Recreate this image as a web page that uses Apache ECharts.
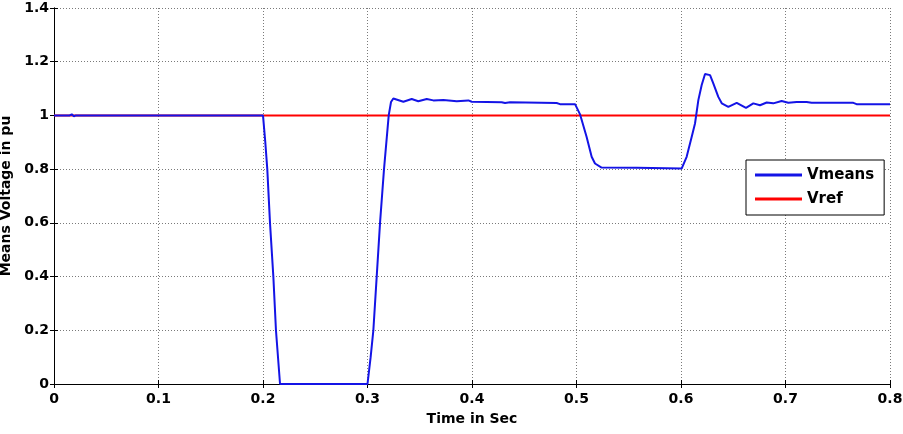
<!DOCTYPE html>
<html>
<head>
<meta charset="utf-8">
<script src="https://cdn.jsdelivr.net/npm/echarts@6/dist/echarts.min.js"></script>
<style>
  html, body { margin: 0; padding: 0; background: #fff; }
  #chart { width: 903px; height: 434px; }
</style>
</head>
<body>
<div id="chart"></div>
<script>
// time axis (s) and mean voltage (pu)
var vmeansTime = [0, 0.015, 0.017, 0.019, 0.021, 0.2, 0.2022, 0.2041, 0.2067, 0.2099, 0.2124, 0.2163,
  0.300, 0.303, 0.3056, 0.3088, 0.312, 0.3158, 0.3203, 0.3225, 0.3247, 0.3343, 0.3423, 0.3486, 0.3567,
  0.363, 0.3726, 0.3854, 0.3965, 0.3997, 0.4284, 0.4316, 0.4364, 0.481, 0.4842, 0.4986, 0.5033, 0.5097,
  0.5145, 0.5177, 0.524, 0.5576, 0.558, 0.6006, 0.6054, 0.6102, 0.6134, 0.6166, 0.6198, 0.623, 0.6278,
  0.6309, 0.6357, 0.639, 0.6453, 0.6533, 0.6622, 0.6692, 0.6756, 0.682, 0.6883, 0.6963, 0.7027, 0.7107,
  0.7202, 0.725, 0.7649, 0.768, 0.8];
var vmeansVal = [1.0, 1.0, 1.004, 0.997, 1.0, 1.0, 0.9, 0.8, 0.6, 0.4, 0.2, 0.0,
  0.0, 0.1, 0.2, 0.4, 0.6, 0.8, 1.0, 1.05, 1.063, 1.051, 1.061, 1.053, 1.061,
  1.056, 1.057, 1.053, 1.056, 1.051, 1.049, 1.046, 1.049, 1.046, 1.042, 1.042, 1.005, 0.92,
  0.846, 0.821, 0.806, 0.805, 0.802, 0.802, 0.846, 0.92, 0.97, 1.057, 1.113, 1.154, 1.15,
  1.119, 1.069, 1.045, 1.032, 1.047, 1.028, 1.045, 1.038, 1.048, 1.045, 1.054, 1.047, 1.05,
  1.05, 1.047, 1.047, 1.042, 1.042];
var vrefTime = [0, 0.8];
var vrefVal = [1, 1];

var chart = echarts.init(document.getElementById('chart'));

function pairs(xs, ys) {
  var out = [];
  for (var i = 0; i < xs.length; i++) out.push([xs[i], ys[i]]);
  return out;
}

// the figure's lettering is wide, DejaVu Sans bold fits it best
var fontFam = '"DejaVu Sans", sans-serif';
var labelStyle = { color: '#000', fontWeight: 'bold', fontSize: 14, fontFamily: fontFam };
var gridLine = { show: true, lineStyle: { color: '#7a7a7a', type: [1, 2], width: 1 } };

option = {
  animation: false,
  grid: { left: 54, right: 13, top: 8, bottom: 50, outerBoundsMode: 'none', containLabel: false },
  legend: {
    left: 746,
    top: 160,
    orient: 'vertical',
    backgroundColor: '#fff',
    borderColor: '#000',
    borderWidth: 1,
    padding: [6, 10, 7, 9],
    icon: 'rect',
    itemWidth: 47,
    itemHeight: 3,
    itemGap: 6,
    textStyle: { color: '#000', fontWeight: 'bold', fontSize: 15, fontFamily: fontFam, lineHeight: 18 },
    data: ['Vmeans', 'Vref']
  },
  xAxis: [{
    type: 'value', min: 0, max: 0.8, interval: 0.1,
    name: 'Time in Sec', nameLocation: 'middle', nameGap: 28,
    nameTextStyle: labelStyle,
    axisLine: { lineStyle: { color: '#000', width: 1 } },
    axisTick: { inside: true, length: 4, lineStyle: { color: '#000' } },
    axisLabel: Object.assign({ margin: 8 }, labelStyle),
    splitLine: gridLine
  }, {
    type: 'value', position: 'top', min: 0, max: 0.8, interval: 0.1,
    axisLine: { show: true, lineStyle: { color: '#000', width: 1 } },
    axisTick: { show: true, inside: true, length: 4, lineStyle: { color: '#000' } },
    axisLabel: { show: false },
    splitLine: { show: false }
  }],
  yAxis: [{
    type: 'value', min: 0, max: 1.4, interval: 0.2,
    name: 'Means Voltage in pu', nameLocation: 'middle', nameGap: 39,
    nameTextStyle: labelStyle,
    axisLine: { show: true, lineStyle: { color: '#000', width: 1 } },
    axisTick: { show: true, inside: true, length: 4, lineStyle: { color: '#000' } },
    axisLabel: Object.assign({ margin: 5 }, labelStyle),
    splitLine: gridLine
  }, {
    type: 'value', position: 'right', min: 0, max: 1.4, interval: 0.2,
    axisLine: { show: true, lineStyle: { color: '#000', width: 1 } },
    axisTick: { show: true, inside: true, length: 4, lineStyle: { color: '#000' } },
    axisLabel: { show: false },
    splitLine: { show: false }
  }],
  series: [{
    name: 'Vmeans', type: 'line', symbol: 'none',
    lineStyle: { color: '#1414e6', width: 2 },
    itemStyle: { color: '#1414e6' },
    data: pairs(vmeansTime, vmeansVal),
    z: 4
  }, {
    name: 'Vref', type: 'line', symbol: 'none',
    lineStyle: { color: '#ff0000', width: 2 },
    itemStyle: { color: '#ff0000' },
    data: pairs(vrefTime, vrefVal),
    z: 3
  }]
};

chart.setOption(option);
</script>
</body>
</html>
